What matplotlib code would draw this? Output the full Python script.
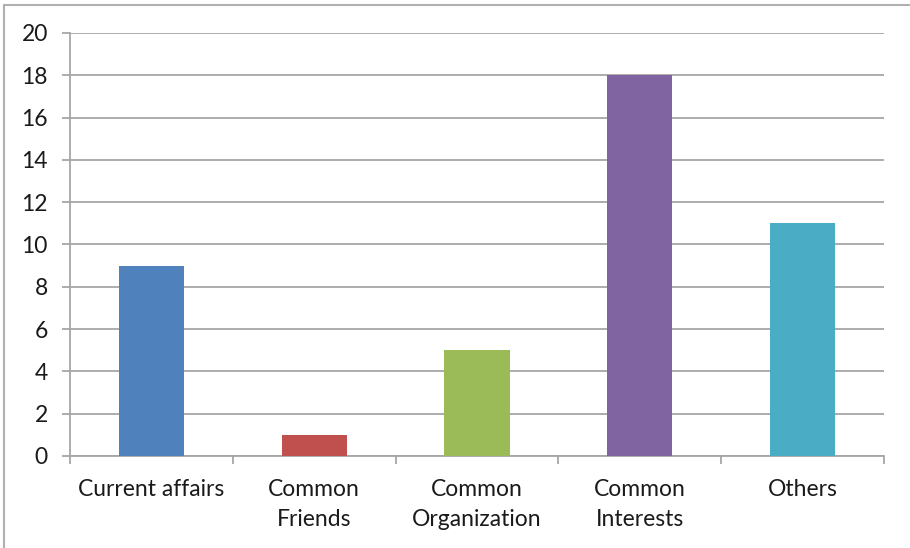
import matplotlib.pyplot as plt
from matplotlib.lines import Line2D

categories = ["Current affairs", "Common\nFriends", "Common\nOrganization", "Common\nInterests", "Others"]
values = [9, 1, 5, 18, 11]
colors = ["#4F81BD", "#C0504D", "#9BBB59", "#8064A2", "#4BACC6"]
yticks = list(range(0, 21, 2))

plt.rcParams['font.family'] = ['Lato', 'DejaVu Sans']

fig = plt.figure(figsize=(9.1, 5.48), dpi=100)
ax = fig.add_axes([70 / 910, 1 - 456 / 548, (884 - 70) / 910, (456 - 33) / 548])

grid_color = "#A6A6A6"
x = list(range(len(categories)))
ax.bar(x, values, width=0.4, color=colors, zorder=3)

ax.set_xlim(-0.5, len(categories) - 0.5)
ax.set_ylim(0, 20)
ax.set_yticks(yticks)
ax.yaxis.grid(True, color=grid_color, linewidth=1.3, zorder=0)

ax.set_xticks(x)
ax.set_xticklabels(categories, fontsize=16.5, color="#1a1a1a", linespacing=1.55)
ax.tick_params(axis='x', length=0, pad=16.5)
ax.set_xticks([i - 0.5 for i in range(len(categories) + 1)], minor=True)
ax.tick_params(axis='x', which='minor', length=5.5, width=1.3, color=grid_color)
ax.tick_params(axis='y', length=6, width=1.3, color=grid_color, labelsize=16.5,
               labelcolor="#1a1a1a", pad=10)

for side in ['top', 'right']:
    ax.spines[side].set_visible(False)
for side in ['left', 'bottom']:
    ax.spines[side].set_color(grid_color)
    ax.spines[side].set_linewidth(1.3)

# outer chart border (only left and top visible)
fig.add_artist(Line2D([4 / 910, 4 / 910], [0, 1 - 5 / 548], color="#B0B0B0", lw=1.5,
                      transform=fig.transFigure))
fig.add_artist(Line2D([4 / 910, 1], [1 - 5 / 548, 1 - 5 / 548], color="#B0B0B0", lw=1.5,
                      transform=fig.transFigure))

fig.savefig("out.png", dpi=100)
